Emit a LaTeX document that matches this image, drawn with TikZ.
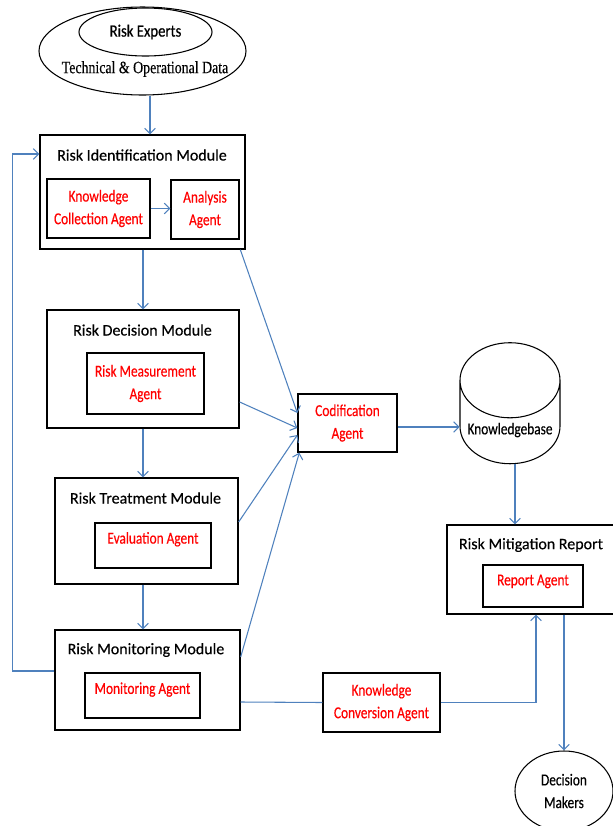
\documentclass[tikz,border=0pt]{standalone}
\usepackage{fontspec}
\setmainfont[FakeBold=0.4]{Carlito}
\newfontfamily\narrowfont[FakeStretch=0.8,FakeBold=0.4]{Carlito}
\newfontfamily\expertfont[FakeStretch=0.85,FakeBold=0.4]{Carlito}
\newfontfamily\dataserif[FakeStretch=0.8,FakeBold=0.3]{Liberation Serif}
\usetikzlibrary{arrows.meta,shapes.geometric}
\definecolor{flowblue}{RGB}{79,129,189}
\definecolor{agentred}{RGB}{255,0,0}

\begin{document}
\begin{tikzpicture}[x=0.75pt,y=0.75pt,yscale=-1,xscale=1,
  module/.style={draw,line width=1pt,inner sep=0pt},
  agent/.style={draw,line width=1pt,inner sep=0pt,text=agentred,align=center,font=\fontsize{12.5}{17}\narrowfont},
  title/.style={inner sep=0.75pt,font=\fontsize{12}{14}\selectfont},
  flow/.style={draw=flowblue,line width=0.8pt,-{Straight Barb[length=4pt,width=8pt]}},
  link/.style={draw=flowblue,line width=0.8pt}]
\useasboundingbox (0,0) rectangle (612,826);

%Shape: Ellipse (sources)
\node[ellipse,draw,line width=0.8pt,minimum width=155.25pt,minimum height=66pt] (data) at (142.5,51) {};
\node[ellipse,draw,line width=0.8pt,minimum width=99.75pt,minimum height=36pt,font=\fontsize{13}{15}\expertfont] (experts) at (145.5,32) {Risk Experts};
% Text Node
\node[inner sep=0.75pt,font=\fontsize{13}{15}\dataserif] (datatext) at (145,69) {Technical \& Operational Data};

%Shape: Rectangle (identification)
\node[module,minimum width=153.75pt,minimum height=85.5pt] (rim) at (142.5,192) {};
\node[title] (rimtitle) at (142,155) {Risk Identification Module};
\node[agent,minimum width=77.25pt,minimum height=44.25pt] (kca) at (98.5,208.5) {Knowledge\\Collection Agent};
\node[agent,minimum width=51pt,minimum height=44.25pt] (aa) at (205,209.5) {Analysis\\Agent};

%Shape: Rectangle (decision)
\node[module,minimum width=144pt,minimum height=88.5pt] (rdm) at (143,369) {};
\node[title] (rdmtitle) at (142.5,330) {Risk Decision Module};
\node[agent,minimum width=87.75pt,minimum height=45.75pt] (rma) at (145.5,383.5) {Risk Measurement\\Agent};

%Shape: Rectangle (treatment)
\node[module,minimum width=137.25pt,minimum height=79.5pt] (rtm) at (146.5,531) {};
\node[title] (rtmtitle) at (145.5,498) {Risk Treatment Module};
\node[agent,minimum width=87pt,minimum height=33.75pt,text depth=11.5pt] (ea) at (153,545.5) {Evaluation Agent};

%Shape: Rectangle (monitoring)
\node[module,minimum width=138.75pt,minimum height=75pt] (rmm) at (147.5,680) {};
\node[title] (rmmtitle) at (146,650) {Risk Monitoring Module};
\node[agent,minimum width=86.25pt,minimum height=33.75pt,text depth=11pt] (ma) at (142.5,695.5) {Monitoring Agent};

%Shape: Rectangle (agents on the right)
\node[agent,minimum width=74.25pt,minimum height=43.5pt] (ca) at (347.5,423) {Codification\\Agent};
\node[agent,minimum width=87.75pt,minimum height=44.25pt] (kconv) at (381.5,702.5) {Knowledge\\Conversion Agent};

%Shape: Can
\node[cylinder,draw,line width=0.8pt,shape border rotate=90,aspect=0.8,minimum width=75pt,minimum height=67.5pt,font=\fontsize{12.5}{14}\narrowfont] (kb) at (510,430) {Knowledgebase};

%Shape: Rectangle (report)
\node[module,minimum width=125.25pt,minimum height=66.75pt] (rmr) at (530.5,569.5) {};
\node[title] (rmrtitle) at (531,545) {Risk Mitigation Report};
\node[agent,minimum width=75pt,minimum height=31.5pt,text depth=9pt] (ra) at (533,586) {Report Agent};

%Shape: Ellipse (users)
\node[ellipse,draw,line width=0.8pt,minimum width=73.5pt,minimum height=60pt,align=center,font=\fontsize{12.5}{17}\narrowfont] (dm) at (564,791) {Decision\\Makers};

%Straight Lines
\draw[flow] ([xshift=5.6pt]data.south) -- ([xshift=5.6pt]data.south |- rim.north);
\draw[flow] (kca.east) -- (kca.east -| aa.west);
\draw[flow] (rdm.north |- rim.south) -- (rdm.north);
\draw[flow] (rdm.south) -- (rdm.south |- rtm.north);
\draw[flow] (rdm.south |- rtm.south) -- (rdm.south |- rmm.north);
\draw[flow] ([yshift=-6.75pt]rmm.west) -- ++(-42,0) |- ([yshift=-28.5pt]rim.west);
\draw[flow] ([xshift=-4pt]rim.south east) -- ([yshift=-7.5pt]ca.west);
\draw[flow] ([yshift=24.75pt]rdm.east) -- ([yshift=3.75pt]ca.west);
\draw[flow] ([yshift=-6.75pt]rtm.east) -- ([yshift=9pt]ca.west);
\draw[flow] ([yshift=-17.25pt]rmm.east) -- ([xshift=1.5pt]ca.south west);
\draw[flow] ([yshift=3pt]ca.east) -- ([yshift=3pt]ca.east -| kb.west);
\draw[flow] ([xshift=3.75pt]kb.south) -- ([xshift=3.75pt]kb.south |- rmr.north);
\draw[link] ([yshift=16.5pt]rmm.east) -- (kconv.west);
\draw[flow] (kconv.east) -| ([xshift=4.1pt]rmr.south);
\draw[flow] (dm.north |- rmr.south) -- (dm.north);

\end{tikzpicture}
\end{document}
